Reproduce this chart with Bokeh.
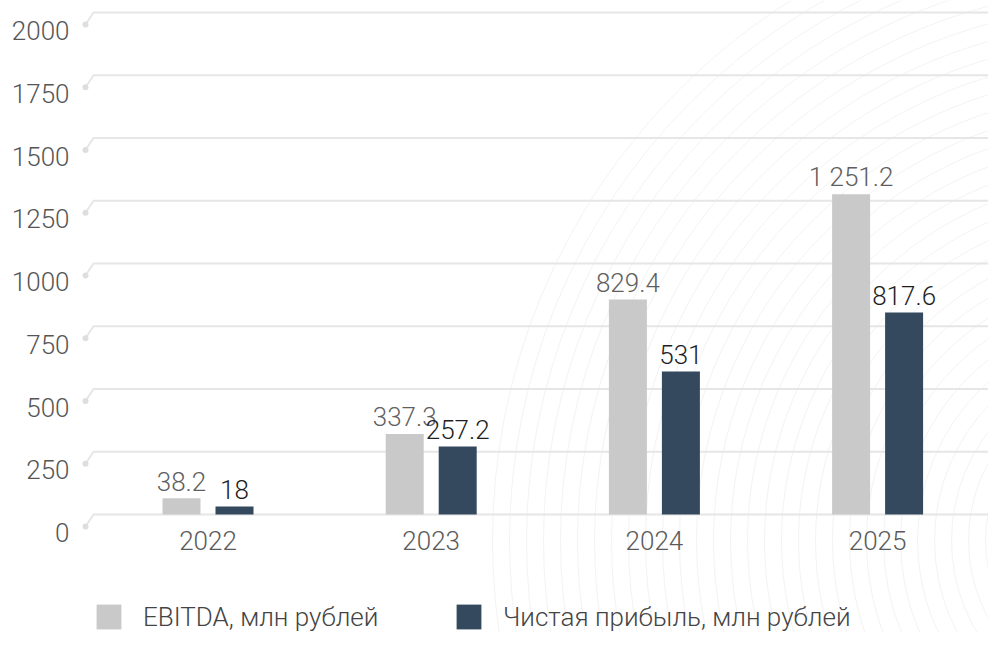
from bokeh.plotting import figure
from bokeh.models import Range1d, LinearAxis, FixedTicker, Legend, LegendItem, ColumnDataSource
from bokeh.core.properties import value
from bokeh.embed import file_html
from bokeh.resources import INLINE

# ---------------- data ----------------
years = ["2022", "2023", "2024", "2025"]
ebitda_bar = [65, 321, 857, 1276]          # bar heights as drawn
profit_bar = [32, 271, 570, 805]
ebitda_labels = ["38.2", "337.3", "829.4", "1 251.2"]
profit_labels = ["18", "257.2", "531", "817.6"]
y_ticks = [0, 250, 500, 750, 1000, 1250, 1500, 1750, 2000]
legend_labels = ["EBITDA, млн рублей", "Чистая прибыль, млн рублей"]

# ---------------- layout (figure pixels) ----------------
W, H = 988, 632
FRAME_L, FRAME_R, FRAME_T, FRAME_B = 78, 988, 0, 632
CAT0, STEP = 207.5, 223.2
ZERO, PPU = 514.0, 0.251
FONT = "Roboto Light"
FS = "26px"
GREY = "#c9c9c9"
NAVY = "#34495e"

def xd(px):
    return (px - CAT0) / STEP

x_start, x_end = xd(FRAME_L), xd(FRAME_R)
y_end = (ZERO - FRAME_T) / PPU
y_start = -(FRAME_B - ZERO) / PPU
shift = 18 / PPU

p = figure(width=W, height=H, x_range=Range1d(x_start, x_end), y_range=Range1d(y_start, y_end),
           x_axis_type=None, y_axis_type=None, output_backend="svg", toolbar_location=None,
           min_border_left=FRAME_L, min_border_right=0, min_border_top=0, min_border_bottom=0)
p.outline_line_color = None
p.xgrid.visible = False
p.ygrid.visible = False
p.background_fill_color = "white"
p.border_fill_color = "white"

# faint decorative arcs
radii = list(range(60, 640, 17))
p.scatter(x=[xd(1130)] * len(radii), y=[(ZERO - 540) / PPU] * len(radii), size=[2 * r for r in radii],
          marker="circle", fill_color=None, line_color="#f3f3f3", line_width=1)

# y axis with labels shifted below gridlines
p.extra_y_ranges = {"lbl": Range1d(y_start + shift, y_end + shift)}
yax = LinearAxis(y_range_name="lbl", ticker=FixedTicker(ticks=y_ticks))
yax.axis_line_color = None
yax.major_tick_line_color = None
yax.minor_tick_line_color = None
yax.major_tick_out = 0
yax.major_tick_in = 0
yax.major_label_standoff = 9
yax.major_label_text_font = FONT
yax.major_label_text_font_size = FS
yax.major_label_text_color = "#555555"
p.add_layout(yax, "left")

# gridlines with small dot + diagonal
gxs = [[xd(85), xd(93), x_end] for t in y_ticks]
gys = [[t - 12 / PPU, t, t] for t in y_ticks]
p.multi_line(xs=gxs, ys=gys, line_color="#e6e6e6", line_width=2)
p.scatter(x=[xd(85)] * len(y_ticks), y=[t - 12 / PPU for t in y_ticks], size=6,
          marker="circle", fill_color="#dedede", line_color=None)

# bars
idx = list(range(len(years)))
off = 26.5 / STEP
bw = 38 / STEP
src = ColumnDataSource(dict(
    xe=[i - off for i in idx], xp=[i + off for i in idx],
    e=ebitda_bar, pr=profit_bar, el=ebitda_labels, pl=profit_labels, yr=years, xc=idx,
    z=[0] * len(idx)))
r1 = p.vbar(x="xe", top="e", width=bw, source=src, fill_color=GREY, line_color=None)
r2 = p.vbar(x="xp", top="pr", width=bw, source=src, fill_color=NAVY, line_color=None)

# value labels
p.text(x="xe", y="e", text="el", source=src, text_align="center", text_baseline="alphabetic",
       y_offset=-17, text_font=value(FONT), text_font_size=FS, text_color="#5f5f5f")
p.text(x="xp", y="pr", text="pl", source=src, text_align="center", text_baseline="alphabetic",
       y_offset=-17, text_font=value(FONT), text_font_size=FS, text_color="#1e1e1e")

# category labels
p.text(x="xc", y="z", text="yr", source=src, text_align="center", text_baseline="middle",
       y_offset=26, text_font=value(FONT), text_font_size=FS, text_color="#5a5a5a")

# legend
legend = Legend(items=[LegendItem(label=legend_labels[0], renderers=[r1]),
                       LegendItem(label=legend_labels[1], renderers=[r2])],
                location=(15, 0), orientation="horizontal",
                glyph_width=31, glyph_height=31, label_standoff=19, label_width=300,
                label_height=31, spacing=10, padding=0, margin=0,
                border_line_color=None, background_fill_alpha=0,
                label_text_font=FONT, label_text_font_size=FS, label_text_color="#444444",
                label_text_baseline="middle")
p.add_layout(legend)

open("out.html", "w").write(file_html(p, INLINE))
